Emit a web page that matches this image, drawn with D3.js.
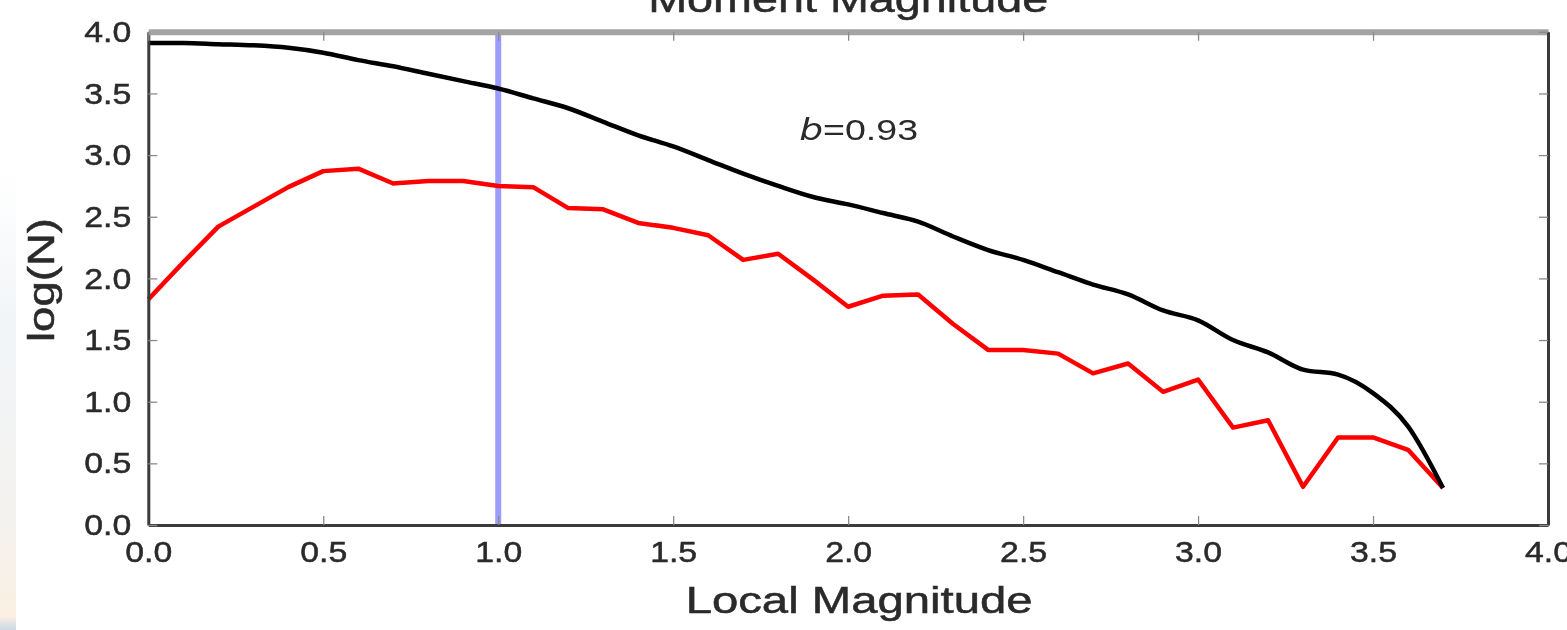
<!DOCTYPE html>
<html>
<head>
<meta charset="utf-8">
<script src="https://cdn.jsdelivr.net/npm/d3@7"></script>
<style>
  html, body { margin: 0; padding: 0; background: #ffffff; }
  svg { display: block; }
  text { font-family: "Liberation Sans", Arial, Helvetica, sans-serif; fill: #2a2a2a; }
</style>
</head>
<body>
<svg id="chart" width="1567" height="630"></svg>
<script>
// ---- data ----
const magnitudes = [0.0, 0.1, 0.2, 0.3, 0.4, 0.5, 0.6, 0.7, 0.8, 0.9,
                    1.0, 1.1, 1.2, 1.3, 1.4, 1.5, 1.6, 1.7, 1.8, 1.9,
                    2.0, 2.1, 2.2, 2.3, 2.4, 2.5, 2.6, 2.7, 2.8, 2.9,
                    3.0, 3.1, 3.2, 3.3, 3.4, 3.5, 3.6, 3.7];
const cumulativeLogN = [3.91, 3.91, 3.90, 3.89, 3.87, 3.83, 3.77, 3.72, 3.66, 3.60,
                        3.54, 3.46, 3.38, 3.27, 3.16, 3.07, 2.96, 2.85, 2.75, 2.66,
                        2.60, 2.53, 2.46, 2.34, 2.23, 2.15, 2.05, 1.95, 1.87, 1.74,
                        1.66, 1.50, 1.40, 1.26, 1.22, 1.07, 0.80, 0.30];
const incrementalLogN = [1.83, 2.13, 2.42, 2.58, 2.74, 2.87, 2.89, 2.77, 2.79, 2.79,
                         2.75, 2.74, 2.57, 2.56, 2.45, 2.41, 2.35, 2.15, 2.20, 1.99,
                         1.77, 1.86, 1.87, 1.63, 1.42, 1.42, 1.39, 1.23, 1.31, 1.08,
                         1.18, 0.79, 0.85, 0.31, 0.71, 0.71, 0.61, 0.30];
const completenessMag = [1.0];
const xTicks = [0.0, 0.5, 1.0, 1.5, 2.0, 2.5, 3.0, 3.5, 4.0];
const yTicks = [0.0, 0.5, 1.0, 1.5, 2.0, 2.5, 3.0, 3.5, 4.0];
const xDomain = [0, 4];
const yDomain = [0, 4];
const titleText = "Moment Magnitude";
const xLabelText = "Local Magnitude";
const yLabelText = "log(N)";
const bValueLabel = "0.93";
const bValueAt = [1.86, 3.12]; // magnitude, logN position of annotation

// ---- layout ----
const svg = d3.select("#chart");
const W = 1567, H = 630;
const plotLeft = 148.3, plotRight = 1548, plotTop = 31.8, plotBottom = 525;

// slide-background strip on the far left
const defs = svg.append("defs");
const grad = defs.append("linearGradient").attr("id", "strip").attr("x1", 0).attr("y1", 0).attr("x2", 0).attr("y2", 1);
grad.append("stop").attr("offset", "0").attr("stop-color", "#ffffff");
grad.append("stop").attr("offset", "0.35").attr("stop-color", "#f1f4f7");
grad.append("stop").attr("offset", "0.75").attr("stop-color", "#f3f2ef");
grad.append("stop").attr("offset", "0.97").attr("stop-color", "#fbf0e2");
grad.append("stop").attr("offset", "1").attr("stop-color", "#c9d9e6");
svg.append("rect").attr("x", 0).attr("y", 170).attr("width", 16).attr("height", H - 170).attr("fill", "url(#strip)");

defs.append("filter").attr("id", "soft").append("feGaussianBlur").attr("stdDeviation", 0.7);

const g = svg.append("g").attr("filter", "url(#soft)");

const x = d3.scaleLinear().domain(xDomain).range([plotLeft, plotRight]);
const y = d3.scaleLinear().domain(yDomain).range([plotBottom, plotTop]);
const fmt = d3.format(".1f");

// completeness line
g.selectAll("line.mc").data(completenessMag).join("line")
  .attr("class", "mc")
  .attr("x1", d => x(d)).attr("x2", d => x(d))
  .attr("y1", y(yDomain[0])).attr("y2", y(yDomain[1]))
  .attr("stroke", "#9c9cff").attr("stroke-width", 6);

// series
const pts = (vals) => magnitudes.map((m, i) => [m, vals[i]]);
const line = d3.line().x(d => x(d[0])).y(d => y(d[1]));
const smoothLine = d3.line().x(d => x(d[0])).y(d => y(d[1])).curve(d3.curveMonotoneX);

g.append("path").datum(pts(incrementalLogN))
  .attr("d", line).attr("fill", "none")
  .attr("stroke", "#ff0000").attr("stroke-width", 4.5).attr("stroke-linejoin", "round");

g.append("path").datum(pts(cumulativeLogN))
  .attr("d", smoothLine).attr("fill", "none")
  .attr("stroke", "#000000").attr("stroke-width", 4.5).attr("stroke-linejoin", "round");

// axes
const tickLen = 9;
function styleAxis(sel, spineColor, spineWidth) {
  sel.select(".domain").attr("stroke", spineColor).attr("stroke-width", spineWidth);
  sel.selectAll(".tick line").attr("stroke", "#8a8a8a").attr("stroke-width", 1.3);
}
function styleTickText(sel) {
  sel.selectAll("text").attr("font-size", 30).attr("textLength", 47)
    .attr("lengthAdjust", "spacingAndGlyphs").attr("fill", "#2a2a2a")
    .attr("stroke", "#2a2a2a").attr("stroke-width", 0.5);
}

const xAxisB = g.append("g").attr("transform", `translate(0,${plotBottom})`)
  .call(d3.axisBottom(x).tickValues(xTicks).tickFormat(fmt).tickSizeInner(-tickLen).tickSizeOuter(0).tickPadding(16));
styleAxis(xAxisB, "#3a3a3a", 3);
styleTickText(xAxisB);

const yAxisL = g.append("g").attr("transform", `translate(${plotLeft},0)`)
  .call(d3.axisLeft(y).tickValues(yTicks).tickFormat(fmt).tickSizeInner(-tickLen).tickSizeOuter(0).tickPadding(17));
styleAxis(yAxisL, "#3a3a3a", 3);
styleTickText(yAxisL);

const xAxisT = g.append("g").attr("transform", `translate(0,${plotTop})`)
  .call(d3.axisTop(x).tickValues(xTicks).tickFormat("").tickSizeInner(-tickLen).tickSizeOuter(0));
styleAxis(xAxisT, "#a4a4a4", 6);

const yAxisR = g.append("g").attr("transform", `translate(${plotRight},0)`)
  .call(d3.axisRight(y).tickValues(yTicks).tickFormat("").tickSizeInner(-tickLen).tickSizeOuter(0));
styleAxis(yAxisR, "#3a3a3a", 3);

// labels
const labelStyle = (t) => t.attr("stroke", "#2a2a2a").attr("stroke-width", 0.5);

g.append("text").attr("x", (plotLeft + plotRight) / 2).attr("y", 12)
  .attr("text-anchor", "middle").attr("font-size", 36)
  .attr("textLength", 400).attr("lengthAdjust", "spacingAndGlyphs")
  .call(labelStyle)
  .text(titleText);

g.append("text").attr("x", (plotLeft + plotRight) / 2 + 11).attr("y", 613)
  .attr("text-anchor", "middle").attr("font-size", 36)
  .attr("textLength", 347).attr("lengthAdjust", "spacingAndGlyphs")
  .call(labelStyle)
  .text(xLabelText);

g.append("text").attr("transform", `translate(54,280) rotate(-90)`)
  .attr("text-anchor", "middle").attr("font-size", 36)
  .attr("textLength", 124).attr("lengthAdjust", "spacingAndGlyphs")
  .call(labelStyle)
  .text(yLabelText);

const bt = g.append("text").attr("x", x(bValueAt[0])).attr("y", y(bValueAt[1]))
  .attr("font-size", 30).attr("textLength", 119).attr("lengthAdjust", "spacingAndGlyphs")
  .attr("fill", "#3a3a3a");
bt.append("tspan").attr("font-style", "italic").attr("font-family", "DejaVu Sans").text("b");
bt.append("tspan").text("=" + bValueLabel);
</script>
</body>
</html>
